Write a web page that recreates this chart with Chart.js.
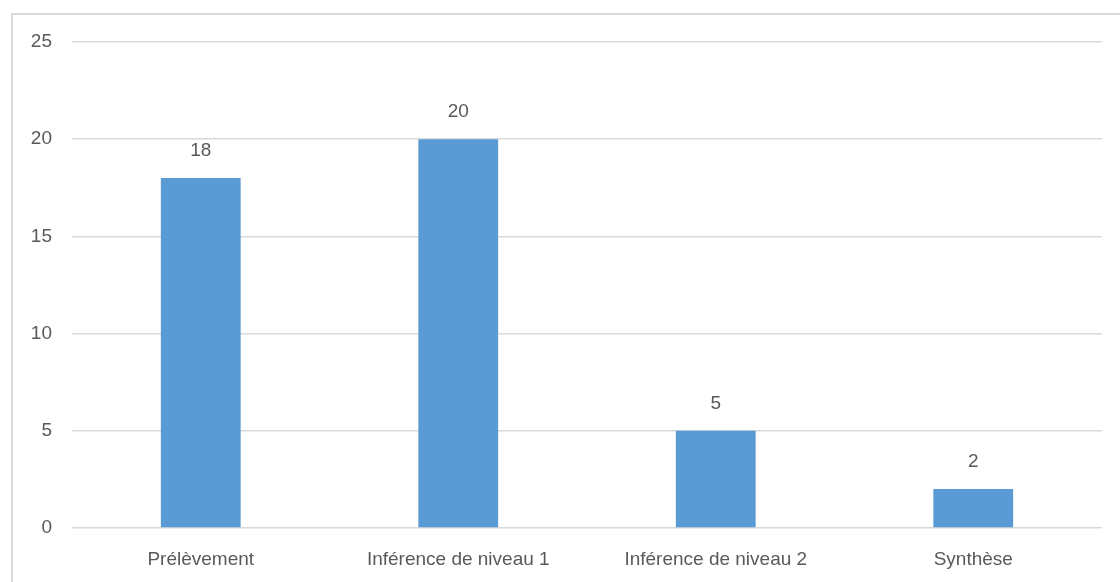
<!DOCTYPE html>
<html>
<head>
<meta charset="utf-8">
<script src="https://cdn.jsdelivr.net/npm/chart.js@4"></script>
<style>
  html, body { margin: 0; padding: 0; background: #fff; overflow: hidden; }
  #frame {
    position: absolute; left: 11px; top: 13px; width: 1200px; height: 700px;
    border-left: 2px solid #d9d9d9; border-top: 2px solid #d9d9d9;
  }
  #wrap { position: absolute; left: 0; top: 0; width: 1120px; height: 582px; }
</style>
</head>
<body>
<div id="frame"></div>
<div id="wrap"><canvas id="chart"></canvas></div>
<script>
const categories = ['Prélèvement', 'Inférence de niveau 1', 'Inférence de niveau 2', 'Synthèse'];
const counts = [18, 20, 5, 2];
const yTicks = [0, 5, 10, 15, 20, 25];

const textColor = '#595959';
const font = { family: '"Liberation Sans", Arial, sans-serif', size: 19 };

// value labels above each bar
const barLabels = {
  id: 'barLabels',
  afterDatasetsDraw(chart) {
    const ctx = chart.ctx;
    const meta = chart.getDatasetMeta(0);
    ctx.save();
    ctx.fillStyle = textColor;
    ctx.font = font.size + 'px ' + font.family;
    ctx.textAlign = 'center';
    ctx.textBaseline = 'bottom';
    meta.data.forEach((bar, i) => {
      ctx.fillText(String(counts[i]), bar.x, bar.y - 18);
    });
    ctx.restore();
  }
};

new Chart(document.getElementById('chart'), {
  type: 'bar',
  data: {
    labels: categories,
    datasets: [{
      data: counts,
      backgroundColor: '#5b9bd5',
      categoryPercentage: 1,
      barPercentage: 0.31
    }]
  },
  options: {
    responsive: true,
    maintainAspectRatio: false,
    animation: false,
    layout: { padding: { top: 42, right: 18, left: 0, bottom: 0 } },
    plugins: { legend: { display: false }, tooltip: { enabled: false } },
    scales: {
      x: {
        grid: { display: false, drawTicks: false },
        border: { display: false },
        ticks: { color: textColor, font: font, padding: 20, maxRotation: 0 },
        afterFit(scale) { scale.height = 54; }
      },
      y: {
        min: 0,
        max: 25,
        afterBuildTicks(scale) { scale.ticks = yTicks.map(v => ({ value: v })); },
        grid: { color: '#d9d9d9', lineWidth: 1.5, drawTicks: false },
        border: { display: false },
        ticks: { color: textColor, font: font, padding: 20 },
        afterFit(scale) { scale.width = 72; }
      }
    }
  },
  plugins: [barLabels]
});
</script>
</body>
</html>
